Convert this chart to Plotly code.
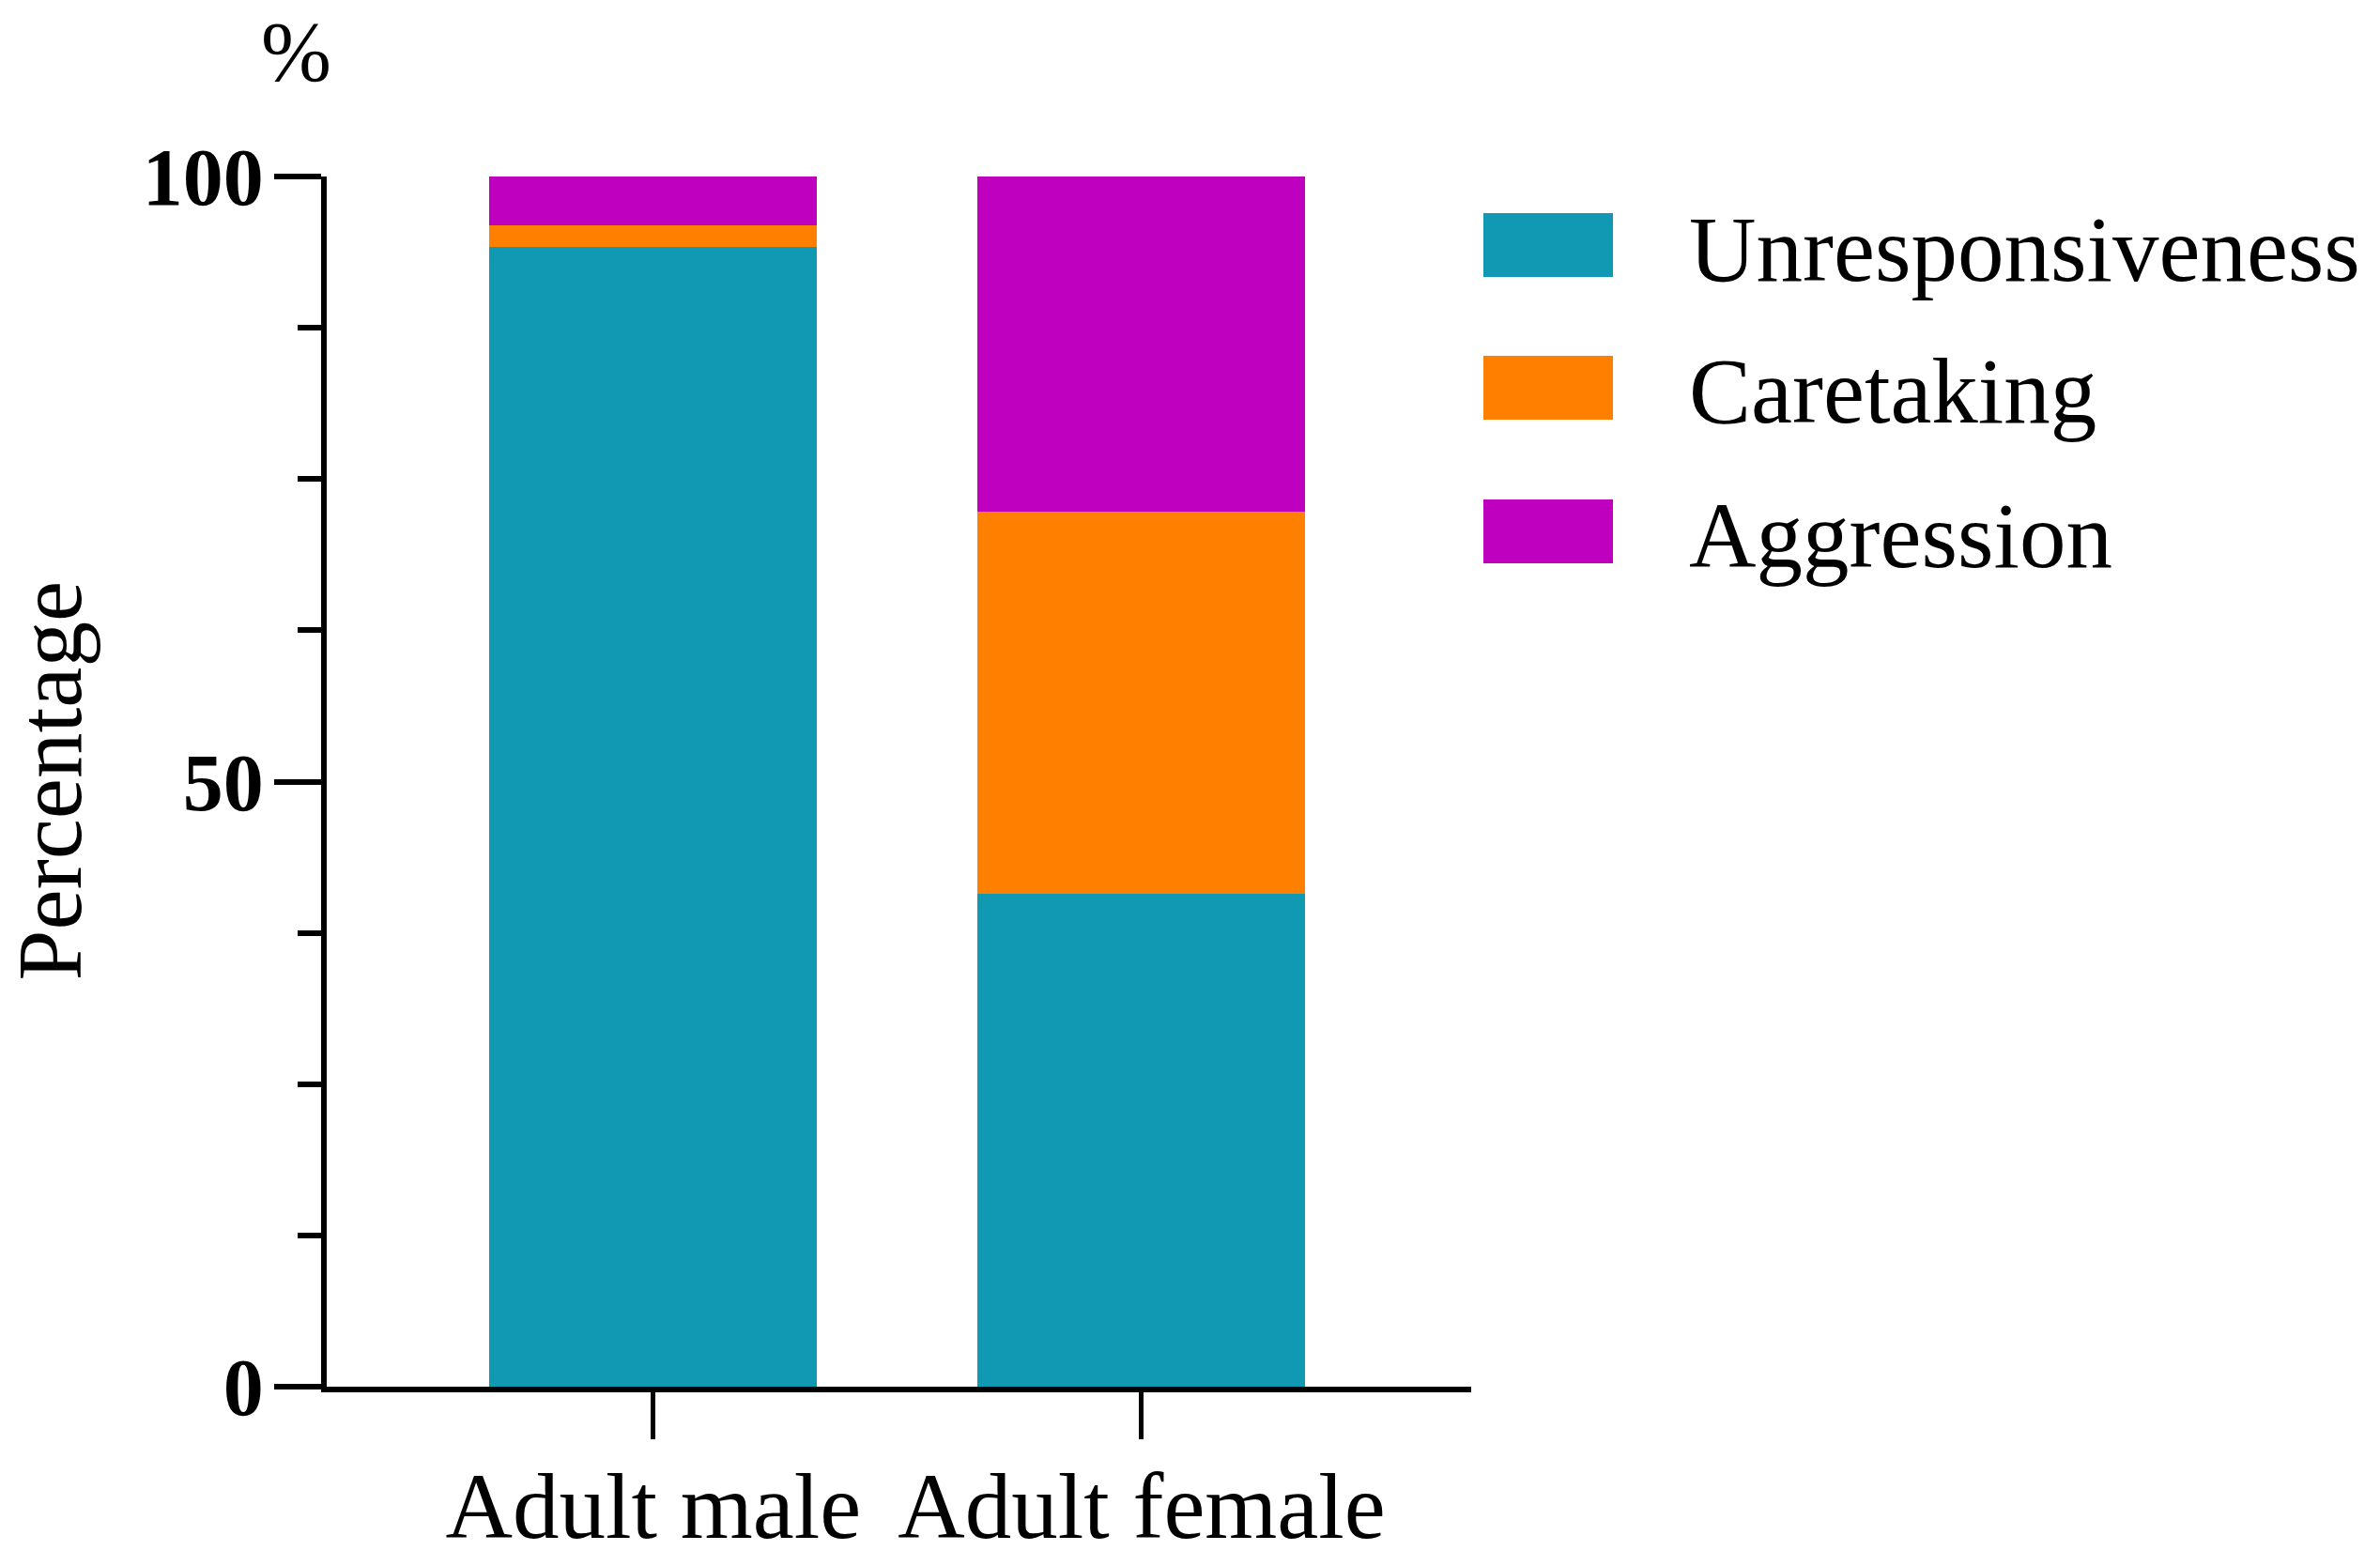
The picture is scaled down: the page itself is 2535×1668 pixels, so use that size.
import plotly.graph_objects as go

# ---- data ----
categories = ["Adult male", "Adult female"]
series_names = ["Unresponsiveness", "Caretaking", "Aggression"]
unresponsiveness = [94.2, 40.7]
caretaking = [1.8, 31.6]
aggression = [4.0, 27.7]
series_values = [unresponsiveness, caretaking, aggression]
colors = ["#1199b4", "#ff8000", "#bf00bf"]
y_tickvals = [0, 50, 100]
y_ticktext = ["0", "50", "100"]

W, H = 2535, 1668
L, R, T, B = 348, 968, 188, 191
pw, ph = W - L - R, H - T - B
FONT = "Liberation Serif"

def px_x(px):
    return (px - L) / pw

def px_y(py):
    return (H - B - py) / ph

fig = go.Figure()
for name, vals, col in zip(series_names, series_values, colors):
    fig.add_trace(go.Bar(
        x=categories, y=vals, name=name,
        marker=dict(color=col, line=dict(width=0)),
        showlegend=False,
    ))

fig.update_layout(
    width=W, height=H,
    barmode="stack", bargap=0.329,
    plot_bgcolor="white", paper_bgcolor="white",
    margin=dict(l=L, r=R, t=T, b=B, autoexpand=False),
    font=dict(family=FONT, color="black"),
)

fig.update_xaxes(
    range=[-0.669, 1.675],
    showline=True, linecolor="black", linewidth=6,
    ticks="outside", ticklen=50, tickwidth=5, tickcolor="black",
    tickfont=dict(family=FONT, size=99, color="black"),
    ticklabelstandoff=-14,
    showgrid=False, zeroline=False,
)

fig.update_yaxes(
    range=[0, 100],
    tickvals=y_tickvals, ticktext=y_ticktext,
    showline=True, linecolor="black", linewidth=6,
    ticks="outside", ticklen=50, tickwidth=6, tickcolor="black",
    tickfont=dict(family=FONT, size=86, color="black", weight="bold"),
    ticklabelstandoff=-6,
    minor=dict(dtick=12.5, ticks="outside", ticklen=25, tickwidth=6, tickcolor="black", showgrid=False),
    showgrid=False, zeroline=False,
)

# y-axis title
fig.add_annotation(
    text="Percentage", xref="paper", yref="paper",
    x=px_x(53), y=0.5, xanchor="center", yanchor="middle",
    textangle=-90, showarrow=False,
    font=dict(family=FONT, size=97, color="black"),
)
# unit label
fig.add_annotation(
    text="%", xref="paper", yref="paper",
    x=px_x(315), y=px_y(56), xanchor="center", yanchor="middle",
    showarrow=False,
    font=dict(family=FONT, size=90, color="black"),
)

# legend (drawn manually so the swatches match the reference size)
row_centers = [261, 413, 566]
for name, col, cy in zip(series_names, colors, row_centers):
    fig.add_shape(
        type="rect", xref="paper", yref="paper",
        x0=px_x(1580), x1=px_x(1718), y0=px_y(cy + 34), y1=px_y(cy - 34),
        fillcolor=col, line=dict(width=0),
    )
    fig.add_annotation(
        text=name, xref="paper", yref="paper",
        x=px_x(1797), y=px_y(cy + 4), xanchor="left", yanchor="middle",
        showarrow=False,
        font=dict(family=FONT, size=99, color="black"),
    )

fig.write_html("out.html", config={"displayModeBar": False},
               post_script="document.body.style.margin='0px';")
